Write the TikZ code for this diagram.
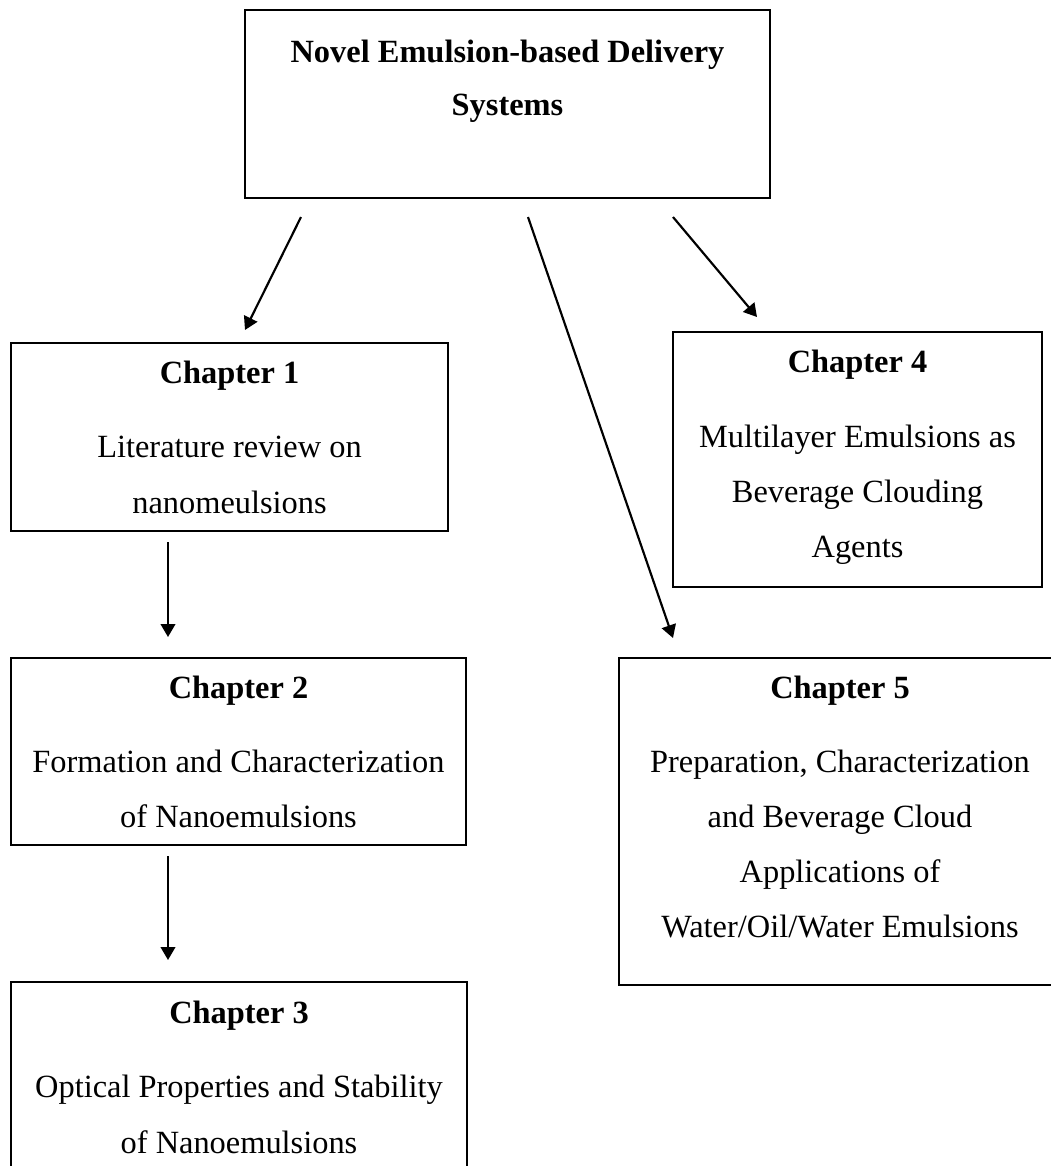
\documentclass[tikz,border=0pt]{standalone}
\usepackage{fontspec}
\setmainfont{Liberation Serif}
\usetikzlibrary{arrows.meta,fit,calc}
\begin{document}
\begin{tikzpicture}[x=0.37037pt,y=-0.37037pt,
  box/.style={draw,line width=0.8pt,inner sep=0pt,outer sep=0pt},
  txt/.style={anchor=base,inner sep=0pt,font=\fontsize{12}{14}\selectfont},
  head/.style={anchor=base,inner sep=0pt,font=\fontsize{12}{14}\selectfont\bfseries},
  arr/.style={line width=0.8pt,-{Triangle[length=4.8pt,width=5.4pt]}}]
\useasboundingbox (0,0) rectangle (1051,1166);
\clip (0,0) rectangle (1051,1166);
% boxes
\node[box,fit={(245,10) (770,198)}] (top) {};
\node[box,fit={(11,343) (448,531)}] (ch1) {};
\node[box,fit={(11,658) (466,845)}] (ch2) {};
\node[box,fit={(11,982) (467,1200)}] (ch3) {};
\node[box,fit={(673,332) (1042,587)}] (ch4) {};
\node[box,fit={(619,658) (1061,985)}] (ch5) {};
% texts
\node[head] (t1) at (507.5,62) {Novel Emulsion-based Delivery};
\node[head] (t2) at (507.5,115) {Systems};
\node[head] (c1h) at (229.5,383) {Chapter 1};
\node[txt] (c1a) at (229.5,457) {Literature review on};
\node[txt] (c1b) at (229.5,513) {nanomeulsions};
\node[head] (c2h) at (238.5,698) {Chapter 2};
\node[txt] (c2a) at (238.5,772) {Formation and Characterization};
\node[txt] (c2b) at (238.5,827) {of Nanoemulsions};
\node[head] (c3h) at (239,1023) {Chapter 3};
\node[txt] (c3a) at (239,1097) {Optical Properties and Stability};
\node[txt] (c3b) at (239,1153) {of Nanoemulsions};
\node[head] (c4h) at (857.5,372) {Chapter 4};
\node[txt] (c4a) at (857.5,447) {Multilayer Emulsions as};
\node[txt] (c4b) at (857.5,502) {Beverage Clouding};
\node[txt] (c4c) at (857.5,557) {Agents};
\node[head] (c5h) at (840,698) {Chapter 5};
\node[txt] (c5a) at (840,772) {Preparation, Characterization};
\node[txt] (c5b) at (840,827) {and Beverage Cloud};
\node[txt] (c5c) at (840,882) {Applications of};
\node[txt] (c5d) at (840,937) {Water/Oil/Water Emulsions};
% connector end points
\coordinate (a1s) at ($(top.south west)+(56,19)$);
\coordinate (a1e) at ($(ch1.north west)+(234,-13)$);
\coordinate (a2s) at ($(top.south west)+(283,19)$);
\coordinate (a2e) at ($(ch5.north west)+(54,-20)$);
\coordinate (a3s) at ($(top.south west)+(428,19)$);
\coordinate (a3e) at ($(ch4.north west)+(84,-15)$);
\coordinate (a4s) at ($(ch1.south west)+(157,11)$);
\coordinate (a4e) at ($(ch2.north west)+(157,-21)$);
\coordinate (a5s) at ($(ch2.south west)+(157,11)$);
\coordinate (a5e) at ($(ch3.north west)+(157,-22)$);
\draw[arr] (a1s) -- (a1e);
\draw[arr] (a2s) -- (a2e);
\draw[arr] (a3s) -- (a3e);
\draw[arr] (a4s) -- (a4e);
\draw[arr] (a5s) -- (a5e);
\end{tikzpicture}
\end{document}
